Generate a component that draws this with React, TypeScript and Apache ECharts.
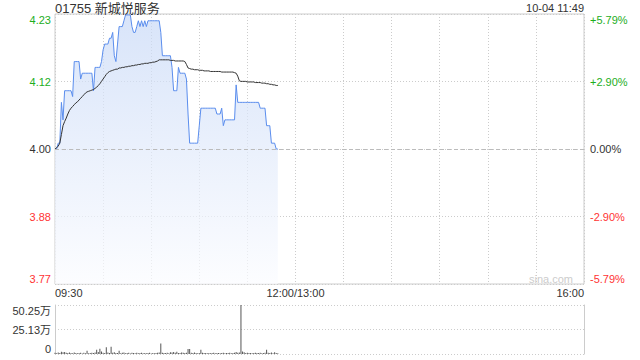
import React, { useEffect, useRef } from "react";
import * as echarts from "echarts";

const stockTitle = "01755";
const stockName = "新城悦服务";
const stampText = "10-04 11:49";
const basePrice = 4.0;
const pctRange = 5.79;

const tickMinutes = [0, 150, 330];
const tickLabels = ["09:30", "12:00/13:00", "16:00"];

// one value per minute from 09:30 to 11:49
const prices = [
  4.00, 4.00, 4.01, 4.01, 4.08, 4.05, 4.10, 4.10, 4.10, 4.10,
  4.10, 4.09, 4.15, 4.15, 4.15, 4.15, 4.12, 4.13, 4.13, 4.13,
  4.13, 4.13, 4.13, 4.13, 4.10, 4.14, 4.14, 4.14, 4.14, 4.15,
  4.17, 4.18, 4.18, 4.18, 4.19, 4.19, 4.20, 4.16, 4.15, 4.18,
  4.21, 4.21, 4.21, 4.22, 4.23, 4.23, 4.23, 4.23, 4.21, 4.20,
  4.20, 4.21, 4.22, 4.21, 4.22, 4.21, 4.22, 4.21, 4.22, 4.22,
  4.22, 4.22, 4.22, 4.22, 4.22, 4.22, 4.20, 4.16, 4.16, 4.16,
  4.16, 4.16, 4.16, 4.14, 4.10, 4.10, 4.10, 4.14, 4.13, 4.13,
  4.13, 4.13, 4.12, 4.06, 4.01, 4.01, 4.01, 4.01, 4.01, 4.01,
  4.04, 4.07, 4.07, 4.07, 4.07, 4.07, 4.07, 4.07, 4.07, 4.07,
  4.07, 4.06, 4.06, 4.06, 4.07, 4.04, 4.05, 4.05, 4.05, 4.05,
  4.05, 4.05, 4.05, 4.11, 4.08, 4.08, 4.08, 4.08, 4.08, 4.08,
  4.08, 4.08, 4.08, 4.08, 4.08, 4.08, 4.08, 4.08, 4.07, 4.07,
  4.07, 4.07, 4.04, 4.04, 4.04, 4.01, 4.01, 4.01, 4.00, 4.00,
];

const avgPrices = [
  4.000, 4.002, 4.005, 4.010, 4.025, 4.040, 4.047, 4.053, 4.060, 4.066,
  4.070, 4.073, 4.076, 4.079, 4.081, 4.084, 4.087, 4.090, 4.093, 4.096,
  4.098, 4.099, 4.100, 4.101, 4.102, 4.104, 4.106, 4.109, 4.112, 4.116,
  4.120, 4.124, 4.128, 4.131, 4.133, 4.134, 4.135, 4.136, 4.137, 4.137,
  4.139, 4.139, 4.140, 4.140, 4.141, 4.141, 4.142, 4.142, 4.143, 4.143,
  4.144, 4.144, 4.145, 4.145, 4.146, 4.146, 4.147, 4.147, 4.147, 4.148,
  4.148, 4.149, 4.149, 4.150, 4.151, 4.153, 4.153, 4.153, 4.153, 4.153,
  4.153, 4.153, 4.152, 4.152, 4.152, 4.151, 4.151, 4.151, 4.151, 4.151,
  4.151, 4.150, 4.145, 4.139, 4.138, 4.137, 4.137, 4.136, 4.136, 4.136,
  4.135, 4.135, 4.135, 4.134, 4.134, 4.134, 4.134, 4.133, 4.133, 4.133,
  4.133, 4.133, 4.133, 4.133, 4.132, 4.132, 4.132, 4.132, 4.132, 4.132,
  4.132, 4.132, 4.131, 4.130, 4.125, 4.117, 4.116, 4.116, 4.116, 4.116,
  4.115, 4.115, 4.115, 4.115, 4.115, 4.114, 4.114, 4.114, 4.114, 4.113,
  4.113, 4.113, 4.112, 4.112, 4.111, 4.111, 4.110, 4.110, 4.109, 4.109,
];

const volumes = [
  12000, 8000, 15000, 10000, 22000, 18000, 20000, 12000, 9000, 15000,
  11000, 8000, 16000, 10000, 7000, 9000, 12000, 6000, 14000, 8000,
  34000, 7000, 10000, 12000, 9000, 15000, 44000, 20000, 55000, 25000,
  12000, 9000, 68000, 15000, 10000, 75000, 12000, 18000, 9000, 11000,
  34000, 8000, 12000, 15000, 7000, 10000, 12000, 6000, 14000, 9000,
  8000, 13000, 7000, 10000, 12000, 8000, 11000, 7000, 9000, 12000,
  6000, 10000, 8000, 9000, 12000, 15000, 108000, 14000, 9000, 11000,
  12000, 8000, 18000, 16000, 20000, 14000, 22000, 10000, 9000, 16000,
  12000, 10000, 14000, 52000, 50000, 12000, 9000, 15000, 11000, 8000,
  10000, 44000, 12000, 9000, 10000, 8000, 11000, 7000, 9000, 12000,
  8000, 10000, 9000, 7000, 11000, 14000, 8000, 10000, 9000, 12000,
  8000, 10000, 14000, 20000, 12000, 16000, 502500, 26000, 18000, 10000,
  12000, 9000, 11000, 8000, 10000, 13000, 9000, 11000, 12000, 8000,
  10000, 14000, 44000, 12000, 9000, 16000, 8000, 18000, 10000, 7000,
];
const volumeMax = 502500;

const FONT = 'Arial, "Liberation Sans", "Noto Sans CJK SC", sans-serif';
const GREEN = "#1dae1d";
const RED = "#f33";
const DARK = "#333";
const GRIDC = "#ccc";

export default function App() {
  const ref = useRef<HTMLDivElement>(null);
  useEffect(() => {
    if (!ref.current) return;
    const chart = echarts.init(ref.current, null, { renderer: "svg" });
    const priceMin = basePrice * (1 - pctRange / 100);
    const priceMax = basePrice * (1 + pctRange / 100);
    const signColor = (v: any) => {
      const n = parseFloat(v);
      return n > 0.001 ? GREEN : n < -0.001 ? RED : DARK;
    };
    const option: any = {
      animation: false,
      textStyle: { fontFamily: FONT },
      graphic: [
        {
          type: "text",
          left: 55,
          top: 2,
          style: {
            text: `${stockTitle} ${stockName}`,
            fill: DARK,
            font: `13px ${FONT}`,
          },
        },
        {
          type: "text",
          right: 56,
          top: 2,
          style: { text: stampText, fill: DARK, font: `11px ${FONT}` },
        },
        {
          type: "text",
          right: 67,
          top: 273,
          style: { text: "sina.com", fill: "#ccc", font: `11px ${FONT}` },
        },
      ],
      grid: [
        { left: 55, right: 56, top: 14, height: 270, show: true, borderColor: GRIDC, borderWidth: 1, backgroundColor: "transparent" },
        { left: 55, right: 56, top: 305, height: 49, show: false },
      ],
      xAxis: [
        {
          type: "value",
          gridIndex: 0,
          min: 0,
          max: 330,
          interval: 30,
          axisLine: { show: false },
          axisTick: { show: false },
          splitLine: { show: true, lineStyle: { color: GRIDC, type: [1, 2] } },
          axisLabel: {
            fontSize: 11,
            color: DARK,
            margin: 3,
            fontFamily: FONT,
            showMinLabel: true,
            showMaxLabel: true,
            alignMinLabel: "left",
            alignMaxLabel: "right",
            formatter: (v: number) => {
              const i = tickMinutes.indexOf(Math.round(v));
              return i >= 0 ? tickLabels[i] : "";
            },
          },
        },
        {
          type: "value",
          gridIndex: 1,
          min: 0,
          max: 330,
          show: false,
        },
      ],
      yAxis: [
        {
          type: "value",
          gridIndex: 0,
          position: "left",
          min: -pctRange,
          max: pctRange,
          interval: pctRange / 2,
          axisLine: { show: false },
          axisTick: { show: false },
          splitLine: { show: true, lineStyle: { color: GRIDC, type: [1, 2] } },
          axisLabel: {
            fontSize: 11,
            margin: 4,
            fontFamily: FONT,
            color: signColor,
            verticalAlignMinLabel: "bottom",
            verticalAlignMaxLabel: "top",
            formatter: (v: number) => (basePrice * (1 + v / 100) + 1e-9).toFixed(2),
          },
        },
        {
          type: "value",
          gridIndex: 0,
          position: "right",
          min: -pctRange,
          max: pctRange,
          interval: pctRange / 2,
          axisLine: { show: false },
          axisTick: { show: false },
          splitLine: { show: false },
          axisLabel: {
            fontSize: 11,
            margin: 6,
            fontFamily: FONT,
            color: signColor,
            verticalAlignMinLabel: "bottom",
            verticalAlignMaxLabel: "top",
            formatter: (v: number) => {
              const s = (Math.abs(v) + 1e-9).toFixed(2) + "%";
              return v > 0.001 ? "+" + s : v < -0.001 ? "-" + s : s;
            },
          },
        },
        {
          type: "value",
          gridIndex: 0,
          min: priceMin,
          max: priceMax,
          show: false,
          splitLine: { show: false },
        },
        {
          type: "value",
          gridIndex: 1,
          position: "left",
          min: 0,
          max: volumeMax,
          interval: volumeMax / 2,
          axisLine: { show: true, lineStyle: { color: GRIDC } },
          axisTick: { show: false },
          splitLine: { show: true, lineStyle: { color: GRIDC, type: [1, 2] } },
          axisLabel: {
            fontSize: 11,
            margin: 4,
            color: DARK,
            fontFamily: FONT,
            verticalAlignMinLabel: "bottom",
            verticalAlignMaxLabel: "top",
            formatter: (v: number) => (v === 0 ? "0" : (v / 10000 + 1e-9).toFixed(2) + "万"),
          },
        },
        {
          type: "value",
          gridIndex: 1,
          position: "right",
          min: 0,
          max: volumeMax,
          axisLine: { show: true, lineStyle: { color: GRIDC } },
          axisTick: { show: false },
          axisLabel: { show: false },
          splitLine: { show: false },
        },
      ],
      series: [
        {
          type: "line",
          xAxisIndex: 0,
          yAxisIndex: 2,
          data: prices.map((p, i) => [i, p]),
          symbol: "none",
          lineStyle: { color: "#5a8ded", width: 1 },
          areaStyle: {
            origin: "start",
            color: new echarts.graphic.LinearGradient(0, 0, 0, 1, [
              { offset: 0, color: "#c8d9f7" },
              { offset: 1, color: "#fbfcff" },
            ]),
          },
          markLine: {
            silent: true,
            symbol: "none",
            label: { show: false },
            lineStyle: { color: "#bbb", type: [4, 3], width: 1 },
            data: [{ yAxis: basePrice }],
          },
          z: 2,
        },
        {
          type: "line",
          xAxisIndex: 0,
          yAxisIndex: 2,
          data: avgPrices.map((p, i) => [i, p]),
          symbol: "none",
          lineStyle: { color: "#333", width: 1 },
          z: 3,
        },
        {
          type: "bar",
          xAxisIndex: 1,
          yAxisIndex: 3,
          data: volumes.map((v, i) => [i, v]),
          barWidth: 1,
          itemStyle: { color: "#555" },
        },
      ],
    };
    chart.setOption(option);
    return () => chart.dispose();
  }, []);
  return (
    <div
      ref={ref}
      style={{ position: "absolute", left: 0, top: 0, width: 640, height: 360 }}
    />
  );
}
